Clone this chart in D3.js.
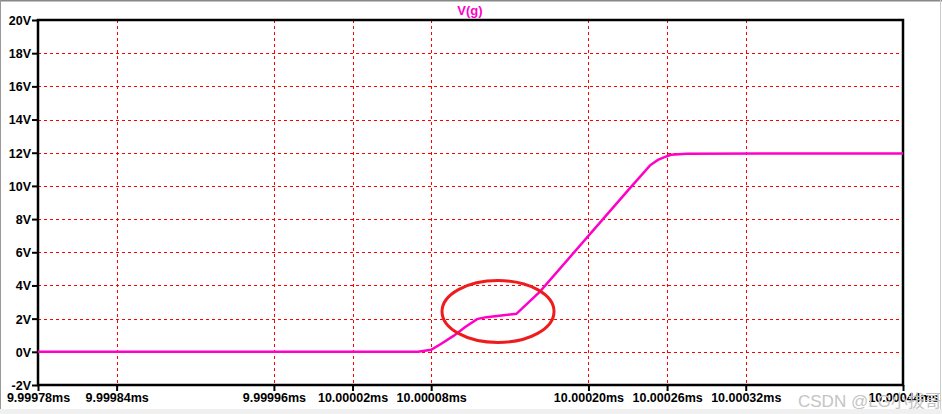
<!DOCTYPE html>
<html>
  <head>
    <meta charset="utf-8">
    <title>V(g)</title>
    <script src="https://d3js.org/d3.v7.min.js"></script>
    <style>
      body { margin: 0; background: #fff; }
      svg { display: block; font-family: "Liberation Sans", Arial, sans-serif; }
      .tick text { font-size: 12.5px; font-weight: bold; fill: #000; }
      .grid line { stroke: #ff0000; stroke-dasharray: 3,3; stroke-width: 1; }
    </style>
  </head>
  <body>
    <svg id="chart" width="942" height="414"></svg>
    <script>
      // data
      xTicks = [9.99978, 9.99984, 9.99996, 10.00002, 10.00008, 10.00020, 10.00026, 10.00032, 10.00044];
      xTickLabels = ["9.99978ms", "9.99984ms", "9.99996ms", "10.00002ms", "10.00008ms", "10.00020ms", "10.00026ms", "10.00032ms", "10.00044ms"];
      yTicks = [-2, 0, 2, 4, 6, 8, 10, 12, 14, 16, 18, 20];
      timeMs = [9.99978, 10.00007, 10.000080, 10.000088, 10.000097, 10.000106, 10.000115, 10.000122, 10.000145, 10.000163, 10.000231, 10.000247, 10.000253, 10.000258, 10.000263, 10.000275, 10.00044];
      voltage = [0, 0, 0.12, 0.5, 0.96, 1.5, 1.97, 2.09, 2.29, 3.63, 9.81, 11.24, 11.57, 11.74, 11.88, 11.94, 11.96];
      highlight = { t: 10.000131, v: 2.43 };

      svg = d3.select("#chart");
      margin = { top: 20, right: 39, bottom: 29, left: 38 };
      width = 942;
      height = 414;

      x = d3.scaleLinear().domain([9.99978, 10.00044]).range([margin.left, width - margin.right]);
      y = d3.scaleLinear().domain([-2, 20]).range([height - margin.bottom, margin.top]);

      // window frame
      svg.append("rect").attr("x", 0).attr("y", 409).attr("width", 942).attr("height", 5).attr("fill", "#f0f0f0");
      svg.append("line").attr("x1", 0).attr("x2", 942).attr("y1", 0.5).attr("y2", 0.5).attr("stroke", "#888").attr("stroke-width", 2);
      svg.append("line").attr("x1", 0.5).attr("x2", 0.5).attr("y1", 0).attr("y2", 409).attr("stroke", "#999");
      svg.append("line").attr("x1", 940.5).attr("x2", 940.5).attr("y1", 0).attr("y2", 409).attr("stroke", "#ccc");

      // grid
      grid = svg.append("g").attr("class", "grid");
      grid.selectAll(".vx")
        .data(xTicks.slice(1, -1))
        .enter().append("line")
          .attr("x1", function(d) { return Math.round(x(d)) + 0.5; })
          .attr("x2", function(d) { return Math.round(x(d)) + 0.5; })
          .attr("y1", y(20))
          .attr("y2", y(-2));
      grid.selectAll(".hy")
        .data(yTicks.slice(1, -1))
        .enter().append("line")
          .attr("x1", x.range()[0])
          .attr("x2", x.range()[1])
          .attr("y1", function(d) { return Math.round(y(d)) + 0.5; })
          .attr("y2", function(d) { return Math.round(y(d)) + 0.5; });

      // axes
      xAxis = d3.axisBottom(x)
        .tickValues(xTicks)
        .tickFormat(function(d, i) { return xTickLabels[i]; })
        .tickSize(6)
        .tickSizeOuter(0);
      yAxis = d3.axisLeft(y)
        .tickValues(yTicks)
        .tickFormat(function(d) { return d + "V"; })
        .tickSize(6)
        .tickSizeOuter(0);
      gx = svg.append("g").attr("transform", "translate(0," + y(-2) + ")").call(xAxis);
      gy = svg.append("g").attr("transform", "translate(" + x.range()[0] + ",0)").call(yAxis);
      svg.selectAll(".domain").remove();
      svg.selectAll(".tick line").attr("stroke", "#000").attr("stroke-width", 2);
      gx.selectAll(".tick text").attr("dy", "0.71em").attr("y", 8);
      gy.selectAll(".tick text").attr("x", -7).attr("dy", "0.35em");

      // frame
      svg.append("rect")
        .attr("x", x.range()[0])
        .attr("y", y(20))
        .attr("width", x.range()[1] - x.range()[0])
        .attr("height", y(-2) - y(20))
        .attr("fill", "none")
        .attr("stroke", "#000")
        .attr("stroke-width", 2.5);

      // trace
      line = d3.line()
        .x(function(d, i) { return x(timeMs[i]); })
        .y(function(d) { return y(d); });
      svg.append("path")
        .datum(voltage)
        .attr("d", line)
        .attr("fill", "none")
        .attr("stroke", "#ff00c8")
        .attr("stroke-width", 2.5);

      // title
      svg.append("text")
        .attr("x", 470)
        .attr("y", 15)
        .attr("text-anchor", "middle")
        .attr("fill", "#ff00c8")
        .style("font-size", "13px")
        .style("font-weight", "bold")
        .text("V(g)");

      // annotation ellipse
      svg.append("ellipse")
        .attr("cx", x(highlight.t))
        .attr("cy", y(highlight.v))
        .attr("rx", 56)
        .attr("ry", 31)
        .attr("fill", "none")
        .attr("stroke", "#ee1c1c")
        .attr("stroke-width", 3);

      // watermark
      svg.append("text")
        .attr("x", 798)
        .attr("y", 407)
        .attr("fill", "#c4c4c4")
        .style("font-size", "17px")
        .style("font-family", "'Liberation Sans', 'Noto Sans CJK SC', sans-serif")
        .text("CSDN @LG小拔哥");
    </script>
  </body>
</html>
